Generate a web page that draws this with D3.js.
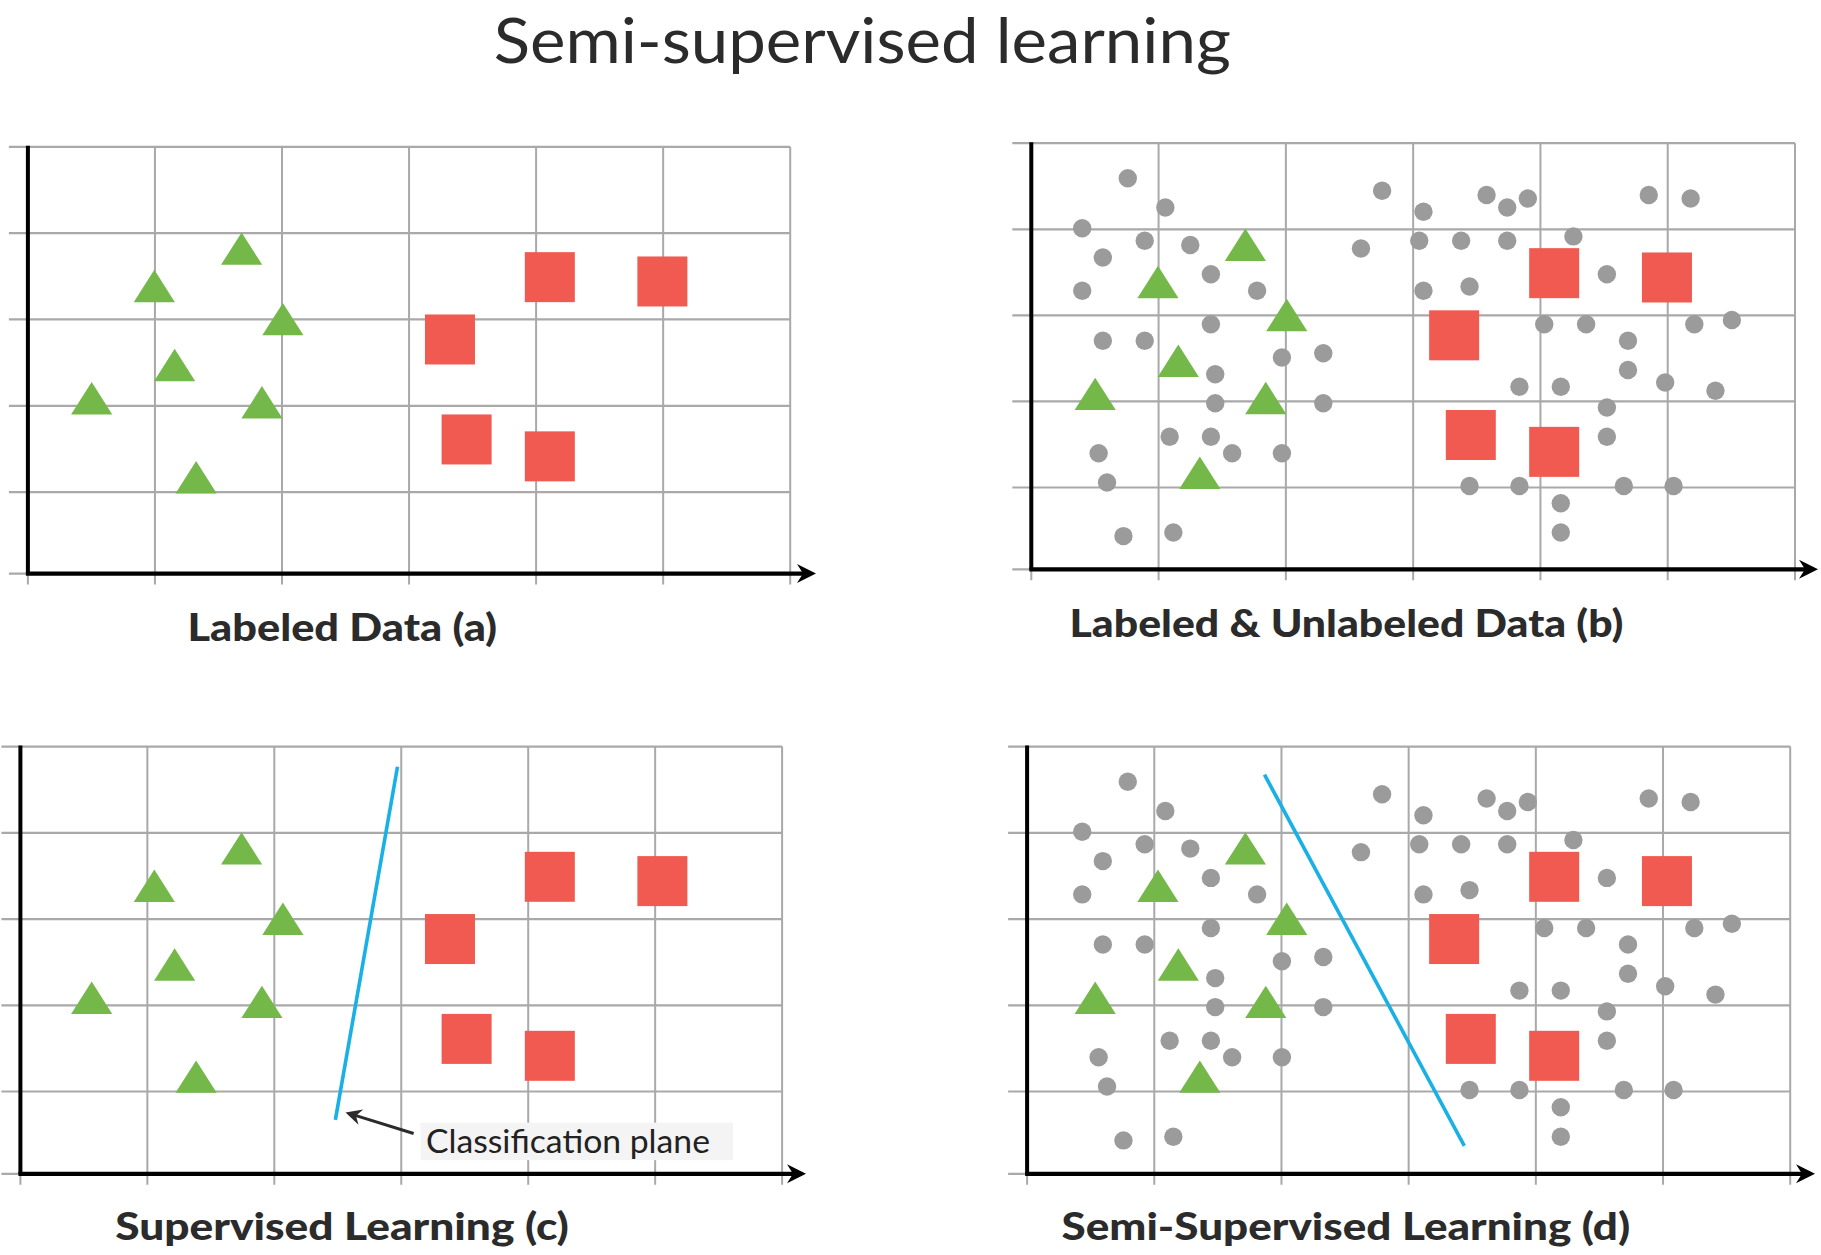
<!DOCTYPE html>
<html>
<head>
<meta charset="utf-8">
<script src="https://cdn.jsdelivr.net/npm/d3@7"></script>
<style>
  html, body { margin: 0; padding: 0; background: #fff; }
  svg { display: block; }
</style>
</head>
<body>
<div id="chart"></div>
<script>
// labeled points, in grid units of the top panel of each column (x: 0..6, y: 0..5)
var triangles = [
    [1.682, 3.820], [0.995, 3.387], [2.007, 3.004], [1.155, 2.473],
    [0.502, 2.088], [1.842, 2.040], [1.324, 1.172]
];
var squares = [
    [4.108, 3.490], [4.994, 3.440], [3.322, 2.768], [3.453, 1.610], [4.108, 1.414]
];
// unlabeled points (panels b and d)
var dots = [
    [0.758, 4.593], [2.756, 4.448], [3.577, 4.398], [3.901, 4.357], [4.851, 4.398],
    [5.180, 4.357], [1.053, 4.253], [3.739, 4.253], [3.081, 4.203], [0.400, 4.012],
    [0.891, 3.867], [1.249, 3.817], [2.590, 3.776], [3.048, 3.867], [3.377, 3.867],
    [3.739, 3.867], [4.259, 3.917], [0.562, 3.672], [1.411, 3.477], [4.522, 3.477],
    [0.400, 3.286], [1.774, 3.286], [3.081, 3.286], [3.443, 3.336], [1.411, 2.896],
    [4.030, 2.896], [4.359, 2.896], [5.209, 2.896], [5.504, 2.946], [0.562, 2.705],
    [0.891, 2.705], [4.688, 2.705], [1.969, 2.510], [2.294, 2.560], [4.688, 2.365],
    [1.445, 2.315], [3.835, 2.170], [4.160, 2.170], [4.980, 2.220], [5.375, 2.124],
    [1.445, 1.979], [2.294, 1.979], [4.522, 1.929], [1.087, 1.589], [1.411, 1.589],
    [4.522, 1.589], [0.529, 1.398], [1.578, 1.398], [1.969, 1.398], [0.595, 1.058],
    [3.443, 1.017], [3.835, 1.017], [4.655, 1.017], [5.046, 1.017], [4.160, 0.808],
    [0.724, 0.406], [1.116, 0.450], [4.160, 0.450]
];
// classification planes (start, end)
var planeC = [[2.909, 4.767], [2.420, 0.655]];
var planeD = [[1.832, 4.675], [3.402, 0.340]];
// annotation of panel c: arrow start and arrow tip
var noteText = "Classification plane";
var noteArrow = [[3.036, 0.490], [2.500, 0.746]];

var gridX = [0, 1, 2, 3, 4, 5, 6];
var gridY = [0, 1, 2, 3, 4, 5];

var mainTitle = "Semi-supervised learning";
var panelTitles = ["Labeled Data (a)", "Labeled & Unlabeled Data (b)",
                   "Supervised Learning (c)", "Semi-Supervised Learning (d)"];

var W = 1821, H = 1255;
var colors = { tri: "#75b84a", sq: "#f05a50", dot: "#9b9b9b", grid: "#a9a9a9",
               axis: "#000", plane: "#19b0e6", text: "#2b2b2b" };

// panel frames (pixels): y axis x, right border, top gridline, gridline 1, x axis
var panels = [
    { x0: 27.9,   x6: 790.2,  top: 146.8, g1: 492.1,  base: 573.6,  tip: 816,  col: 0,
      title: panelTitles[0], tx: 187.5,  tw: 309.6, ty: 640.7,  unl: false, plane: null },
    { x0: 1031.3, x6: 1795.0, top: 143.2, g1: 487.5,  base: 569.3,  tip: 1818, col: 1,
      title: panelTitles[1], tx: 1069.5, tw: 553.8, ty: 636.8,  unl: true,  plane: null },
    { x0: 20.4,   x6: 782.1,  top: 746.6, g1: 1091.5, base: 1173.8, tip: 806,  col: 0,
      title: panelTitles[2], tx: 115.2,  tw: 453.7, ty: 1240.3, unl: false, plane: planeC },
    { x0: 1027.1, x6: 1790.2, top: 746.6, g1: 1091.5, base: 1173.8, tip: 1815, col: 1,
      title: panelTitles[3], tx: 1061.5, tw: 568.7, ty: 1240.3, unl: true,  plane: planeD }
];

var svg = d3.select("#chart").append("svg")
    .attr("width", W).attr("height", H)
    .attr("viewBox", "0 0 " + W + " " + H);

svg.append("rect").attr("width", W).attr("height", H).attr("fill", "#fff");

svg.append("text")
    .attr("x", 862.3).attr("y", 62.5)
    .attr("text-anchor", "middle")
    .attr("font-family", "Lato, 'Open Sans', sans-serif")
    .attr("font-weight", 400)
    .attr("font-size", 62)
    .attr("textLength", 737).attr("lengthAdjust", "spacingAndGlyphs")
    .attr("fill", colors.text)
    .text(mainTitle);

// markers of both panels in a column follow the top panel's x grid
var colX = [0, 1].map(function(c) {
    return d3.scaleLinear().domain([0, 6]).range([panels[c].x0, panels[c].x6]);
});

function triPath(cx, cy) {
    var hw = 20.6, hh = 16.2;
    return "M" + cx + "," + (cy - hh) + "L" + (cx + hw) + "," + (cy + hh) +
           "L" + (cx - hw) + "," + (cy + hh) + "Z";
}

panels.forEach(function(p) {
    var g = svg.append("g");
    var x = d3.scaleLinear().domain([0, 6]).range([p.x0, p.x6]);
    var y = d3.scaleLinear().domain([0, 1, 5]).range([p.base, p.g1, p.top]);
    var mx = colX[p.col];

    // grid
    g.selectAll(".hgrid").data(gridY).enter().append("line")
        .attr("x1", p.x0 - 19).attr("x2", p.x6)
        .attr("y1", function(d) { return y(d); }).attr("y2", function(d) { return y(d); })
        .attr("stroke", colors.grid).attr("stroke-width", 2.2);
    g.selectAll(".vgrid").data(gridX).enter().append("line")
        .attr("x1", function(d) { return x(d); }).attr("x2", function(d) { return x(d); })
        .attr("y1", y(5)).attr("y2", p.base + 11)
        .attr("stroke", colors.grid).attr("stroke-width", 2);

    // axes
    g.append("line")
        .attr("x1", p.x0).attr("x2", p.x0).attr("y1", y(5) - 1).attr("y2", p.base)
        .attr("stroke", colors.axis).attr("stroke-width", 4);
    g.append("line")
        .attr("x1", p.x0 - 2).attr("x2", p.tip - 12).attr("y1", p.base).attr("y2", p.base)
        .attr("stroke", colors.axis).attr("stroke-width", 4.2);
    g.append("path")
        .attr("d", "M" + p.tip + "," + p.base + "L" + (p.tip - 19) + "," + (p.base - 9.5) +
                   "L" + (p.tip - 13) + "," + p.base + "L" + (p.tip - 19) + "," + (p.base + 9.5) + "Z")
        .attr("fill", colors.axis);

    // unlabeled points
    if (p.unl) {
        g.selectAll(".dot").data(dots).enter().append("circle")
            .attr("cx", function(d) { return mx(d[0]); })
            .attr("cy", function(d) { return y(d[1]); })
            .attr("r", 9.2)
            .attr("fill", colors.dot);
    }

    g.selectAll(".tri").data(triangles).enter().append("path")
        .attr("d", function(d) { return triPath(mx(d[0]), y(d[1])); })
        .attr("fill", colors.tri);

    g.selectAll(".sq").data(squares).enter().append("rect")
        .attr("x", function(d) { return mx(d[0]) - 25; })
        .attr("y", function(d) { return y(d[1]) - 25; })
        .attr("width", 50).attr("height", 50)
        .attr("fill", colors.sq);

    if (p.plane) {
        g.append("line")
            .attr("x1", mx(p.plane[0][0])).attr("y1", y(p.plane[0][1]))
            .attr("x2", mx(p.plane[1][0])).attr("y2", y(p.plane[1][1]))
            .attr("stroke", colors.plane).attr("stroke-width", 3.6);
    }

    // annotation only in panel c
    if (p.plane === planeC) {
        var bx = mx(3.09), by = y(0.622);
        g.append("rect")
            .attr("x", bx).attr("y", by)
            .attr("width", mx(5.55) - bx).attr("height", y(0.166) - by)
            .attr("fill", "#f4f4f4");
        g.append("text")
            .attr("x", mx(3.133)).attr("y", y(0.258))
            .attr("font-family", "Lato, 'Open Sans', sans-serif")
            .attr("font-size", 32)
            .attr("textLength", 284).attr("lengthAdjust", "spacingAndGlyphs")
            .attr("fill", "#222")
            .text(noteText);

        var ax1 = mx(noteArrow[0][0]), ay1 = y(noteArrow[0][1]);
        var ax2 = mx(noteArrow[1][0]), ay2 = y(noteArrow[1][1]);
        var ang = Math.atan2(ay2 - ay1, ax2 - ax1);
        var L = 16, hw = 8, notch = 11;
        function pt(dist, off) {
            return [ax2 - dist * Math.cos(ang) - off * Math.sin(ang),
                    ay2 - dist * Math.sin(ang) + off * Math.cos(ang)];
        }
        var nb = pt(notch, 0);
        g.append("line")
            .attr("x1", ax1).attr("y1", ay1).attr("x2", nb[0]).attr("y2", nb[1])
            .attr("stroke", "#2b2b2b").attr("stroke-width", 3);
        g.append("path")
            .attr("d", d3.line()([[ax2, ay2], pt(L, hw), nb, pt(L, -hw)]) + "Z")
            .attr("fill", "#2b2b2b");
    }

    svg.append("text")
        .attr("x", p.tx).attr("y", p.ty)
        .attr("font-family", "Lato, 'Open Sans', sans-serif")
        .attr("font-weight", 900)
        .attr("font-size", 38.5)
        .attr("textLength", p.tw).attr("lengthAdjust", "spacingAndGlyphs")
        .attr("fill", colors.text)
        .text(p.title);
});
</script>
</body>
</html>
